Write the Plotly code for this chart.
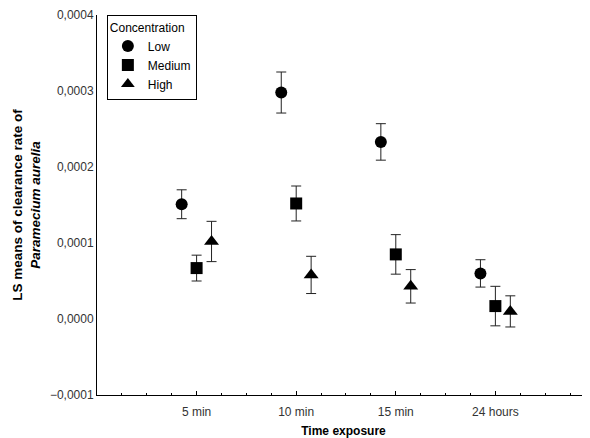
import plotly.graph_objects as go

categories = ["5 min", "10 min", "15 min", "24 hours"]
concentrations = ["Low", "Medium", "High"]

low_mean = [1.51e-4, 2.98e-4, 2.33e-4, 0.60e-4]
low_err = [0.19e-4, 0.27e-4, 0.24e-4, 0.18e-4]
medium_mean = [0.67e-4, 1.52e-4, 0.85e-4, 0.17e-4]
medium_err = [0.17e-4, 0.23e-4, 0.26e-4, 0.26e-4]
high_mean = [1.02e-4, 0.58e-4, 0.43e-4, 0.10e-4]
high_err = [0.265e-4, 0.245e-4, 0.22e-4, 0.205e-4]

y_ticks = [-0.0001, 0.0, 0.0001, 0.0002, 0.0003, 0.0004]

series = [
    ("Low", low_mean, low_err, "circle", -0.15),
    ("Medium", medium_mean, medium_err, "square", 0.0),
    ("High", high_mean, high_err, "triangle-up", 0.15),
]

fig = go.Figure()
pos = list(range(1, len(categories) + 1))
for name, mean, err, sym, off in series:
    fig.add_trace(go.Scatter(
        x=[p + off for p in pos], y=mean, name=name, mode="markers",
        marker=dict(symbol=sym, size=12 if sym != "triangle-up" else 13, color="black"),
        error_y=dict(type="data", array=err, visible=True, color="#222", thickness=1, width=5),
    ))

font = "Liberation Sans, Arial, sans-serif"
# page body has an 8px default margin; the figure is sized to fill the rest
fig.update_layout(
    width=582, height=430,
    margin=dict(l=89, r=0, t=7, b=43),
    paper_bgcolor="white", plot_bgcolor="white",
    separators=",.",
    font=dict(family=font, size=12, color="#333"),
    showlegend=True,
    legend=dict(
        title=dict(text="Concentration", font=dict(size=12, color="black")),
        x=0.02, y=1, xanchor="left", yanchor="top",
        bordercolor="black", borderwidth=1, bgcolor="white",
        font=dict(size=12, color="black"), tracegroupgap=0, itemsizing="constant",
        itemwidth=30,
    ),
    xaxis=dict(
        range=[0, 4.95], tickvals=pos, ticktext=categories, automargin=False,
        showline=True, linecolor="black", linewidth=1, mirror=False,
        ticks="inside", ticklen=4, tickcolor="black", showgrid=False, zeroline=False,
        ticklabelstandoff=6,
        minor=dict(dtick=0.25, tick0=0, ticks="inside", ticklen=2, tickcolor="black", showgrid=False),
        title=dict(text="<b>Time exposure</b>", font=dict(size=12, color="black"), standoff=17),
    ),
    yaxis=dict(
        range=[-0.0001, 0.0004], tickvals=y_ticks, tickformat=".4f", automargin=False,
        showline=True, linecolor="black", linewidth=1, ticks="",
        showgrid=False, zeroline=False,
        title=dict(text="<b>LS means of clearance rate of<br><i>Paramecium aurelia</i></b>",
                   font=dict(size=13.5, color="black"), standoff=6),
    ),
)

fig.write_html("out.html")
